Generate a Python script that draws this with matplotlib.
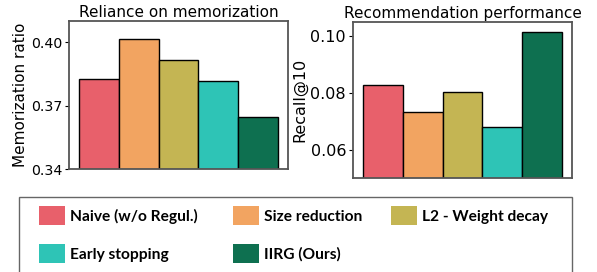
import matplotlib
matplotlib.use("Agg")
import matplotlib.pyplot as plt
from matplotlib.patches import Patch, Rectangle

methods = ["Naive (w/o Regul.)", "Size reduction", "L2 - Weight decay", "Early stopping", "IIRG (Ours)"]
colors = ["#E8606B", "#F2A461", "#C4B553", "#2EC4B6", "#0E7050"]

memorization = [0.3825, 0.4014, 0.3915, 0.3816, 0.3646]
recall10 = [0.0828, 0.0734, 0.0804, 0.0678, 0.1012]

mem_ticks = [0.34, 0.37, 0.40]
recall_ticks = [0.06, 0.08, 0.10]

# legend layout: entries per column (row-wise reading order of the reference)
legend_columns = [[0, 3], [1, 4], [2]]

fig = plt.figure(figsize=(5.97, 2.72), dpi=100)

ax1 = fig.add_axes([69 / 597, 1 - 169 / 272, 219 / 597, 148 / 272])
ax2 = fig.add_axes([353 / 597, 1 - 178 / 272, 219 / 597, 156.3 / 272])

x = range(len(methods))

ax1.bar(x, memorization, width=1.0, color=colors, edgecolor="black", linewidth=1.0)
ax1.set_ylim(0.34, 0.41)
ax1.set_yticks(mem_ticks)
ax1.set_yticklabels([f"{v:.2f}" for v in mem_ticks])
ax1.set_ylabel("Memorization ratio", fontsize=11, labelpad=2)
ax1.set_title("Reliance on memorization", fontsize=11, pad=3)
ax1.tick_params(axis="y", labelsize=10.2, length=3, pad=2)

ax2.bar(x, recall10, width=1.0, color=colors, edgecolor="black", linewidth=1.0)
ax2.set_ylim(0.05, 0.105)
ax2.set_yticks(recall_ticks)
ax2.set_yticklabels([f"{v:.2f}" for v in recall_ticks])
ax2.set_ylabel("Recall@10", fontsize=11.5, labelpad=2)
ax2.set_title("Recommendation performance", fontsize=11, pad=3)
ax2.tick_params(axis="y", labelsize=11.5, length=3, pad=2)

for ax in (ax1, ax2):
    ax.set_xticks([])
    for spine in ax.spines.values():
        spine.set_color("#555555")
        spine.set_linewidth(1.3)

# legend box (bottom edge runs off the figure)
frame = Rectangle((19 / 597, -0.2), (572 - 19) / 597, 0.2 + 1 - 197 / 272,
                  transform=fig.transFigure, facecolor="none",
                  edgecolor="#666666", linewidth=1.0, clip_on=False)
fig.patches.append(frame)

col_x = [39, 233, 391]
for cx, idx in zip(col_x, legend_columns):
    handles = [Patch(facecolor=colors[i], edgecolor="none") for i in idx]
    labels = [methods[i] for i in idx]
    fig.legend(handles, labels, ncol=1, loc="upper left",
               bbox_to_anchor=(cx / 597, 1 - 206 / 272),
               frameon=False, prop={"family": "Lato", "weight": "bold", "size": 11.2},
               handlelength=1.67, handleheight=1.55, handletextpad=0.35,
               labelspacing=1.19, borderaxespad=0, borderpad=0)

fig.savefig("out.png", dpi=100)
